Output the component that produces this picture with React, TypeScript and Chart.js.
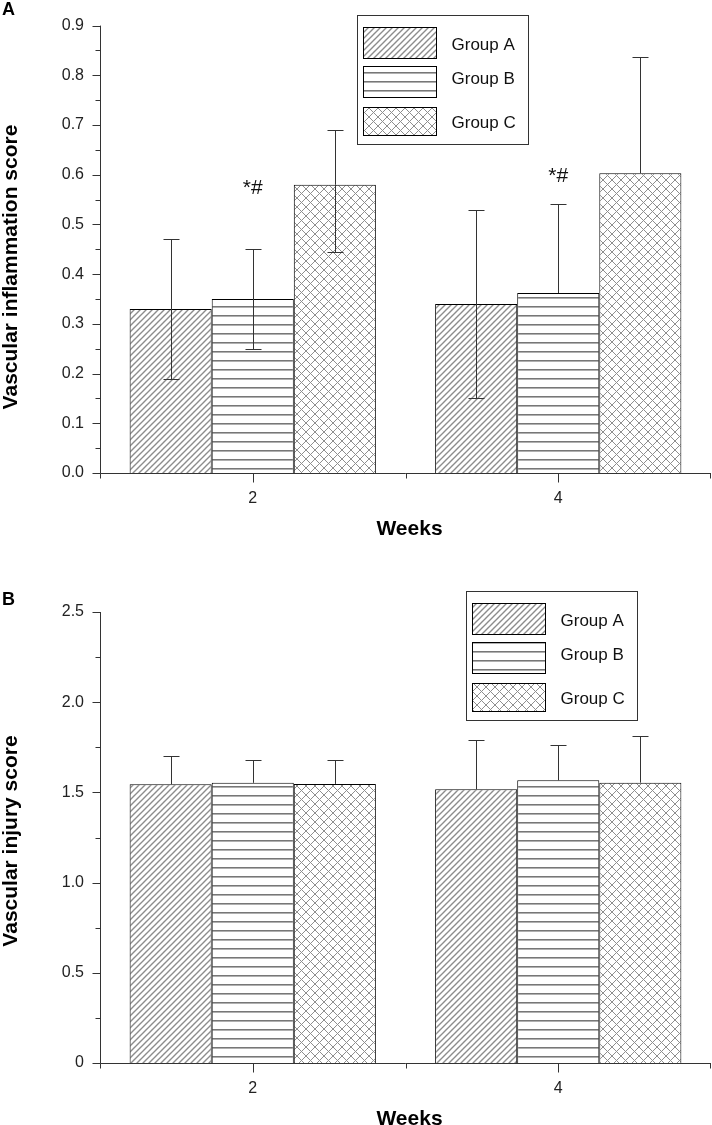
import { useEffect, useRef } from 'react';
import { Chart, registerables } from 'chart.js';

Chart.register(...registerables);

// ---------- data ----------
const weeks = ['2', '4'];
const groupNames = ['Group A', 'Group B', 'Group C'];

// Panel A: vascular inflammation score
const inflA = [0.33, 0.34];
const inflB = [0.35, 0.362];
const inflC = [0.58, 0.603];
const inflUpperA = [0.471, 0.53];
const inflUpperB = [0.45, 0.542];
const inflUpperC = [0.69, 0.837];
const inflLowerA = [0.19, 0.15];
const inflLowerB = [0.25, null];
const inflLowerC = [0.445, null];
const inflMarks = ['*#', '*#'];
const inflMarkAt = [0.562, 0.586];
const inflTicks = [0, 0.1, 0.2, 0.3, 0.4, 0.5, 0.6, 0.7, 0.8, 0.9];
const inflTickLabels = ['0.0', '0.1', '0.2', '0.3', '0.4', '0.5', '0.6', '0.7', '0.8', '0.9'];

// Panel B: vascular injury score
const injA = [1.545, 1.517];
const injB = [1.553, 1.567];
const injC = [1.547, 1.554];
const injUpperA = [1.704, 1.789];
const injUpperB = [1.678, 1.76];
const injUpperC = [1.68, 1.815];
const injTicks = [0, 0.5, 1.0, 1.5, 2.0, 2.5];
const injTickLabels = ['0', '0.5', '1.0', '1.5', '2.0', '2.5'];

const FONT = '"Liberation Sans", Arial, Helvetica, sans-serif';
Chart.defaults.font.family = FONT;

type Kind = 'diag' | 'horiz' | 'cross';

function makePattern(kind: Kind): CanvasPattern {
  const c = document.createElement('canvas');
  const ctx = c.getContext('2d') as CanvasRenderingContext2D;
  if (kind === 'horiz') {
    c.width = 8;
    c.height = 9;
    ctx.fillStyle = '#ffffff';
    ctx.fillRect(0, 0, 8, 9);
    ctx.fillStyle = '#777777';
    ctx.fillRect(0, 0, 8, 1);
    ctx.fillStyle = '#b0b0b0';
    ctx.fillRect(0, 1, 8, 1);
  } else {
    const s = kind === 'diag' ? 6 : 9;
    c.width = s;
    c.height = s;
    ctx.fillStyle = '#ffffff';
    ctx.fillRect(0, 0, s, s);
    ctx.strokeStyle = kind === 'diag' ? '#8c8c8c' : '#8e8e8e';
    ctx.lineWidth = kind === 'diag' ? 1.4 : 1;
    ctx.beginPath();
    for (let k = -1; k <= 1; k++) {
      ctx.moveTo(k * s - 1, s + 1);
      ctx.lineTo(k * s + s + 1, -1);
      if (kind === 'cross') {
        ctx.moveTo(k * s - 1, -1);
        ctx.lineTo(k * s + s + 1, s + 1);
      }
    }
    ctx.stroke();
  }
  return ctx.createPattern(c, 'repeat') as CanvasPattern;
}

interface PanelCfg {
  values: number[][];
  upper: (number | null)[][];
  lower: (number | null)[][];
  marks: string[];
  markAt: number[];
  ticks: number[];
  tickLabels: string[];
  yMax: number;
  yTitle: string;
  yTitleCenter: number;
  panelLabel: string;
  panelLabelY: number;
  padTop: number;
  xHeight: number;
  legendBox: [number, number, number, number];
}

function makeChart(canvas: HTMLCanvasElement, cfg: PanelCfg): Chart {
  const patterns = [makePattern('diag'), makePattern('horiz'), makePattern('cross')];

  const overlay = {
    id: 'overlay',
    afterDatasetsDraw(chart: any) {
      const ctx = chart.ctx as CanvasRenderingContext2D;
      const y = chart.scales.y;
      ctx.save();
      ctx.strokeStyle = '#333';
      ctx.lineWidth = 1;
      cfg.values.forEach((_, di) => {
        const meta = chart.getDatasetMeta(di);
        meta.data.forEach((bar: any, j: number) => {
          const x = Math.round(bar.x) + 0.5;
          const yTop = bar.y;
          const up = cfg.upper[di][j];
          const lo = cfg.lower[di][j];
          ctx.beginPath();
          if (up !== null && up !== undefined) {
            const yu = Math.round(y.getPixelForValue(up)) + 0.5;
            ctx.moveTo(x, yTop);
            ctx.lineTo(x, yu);
            ctx.moveTo(x - 8, yu);
            ctx.lineTo(x + 8, yu);
          }
          if (lo !== null && lo !== undefined) {
            const yl = Math.round(y.getPixelForValue(lo)) + 0.5;
            ctx.moveTo(x, yTop);
            ctx.lineTo(x, yl);
            ctx.moveTo(x - 8, yl);
            ctx.lineTo(x + 8, yl);
          }
          ctx.stroke();
        });
      });
      ctx.restore();
    },
    afterDraw(chart: any) {
      const ctx = chart.ctx as CanvasRenderingContext2D;
      const { left, right, top, bottom } = chart.chartArea;
      const xs = chart.scales.x;
      const ys = chart.scales.y;
      ctx.save();
      // axes
      ctx.strokeStyle = '#333';
      ctx.lineWidth = 1;
      ctx.beginPath();
      const ax = Math.round(left) + 0.5;
      const ay = Math.round(bottom) + 0.5;
      ctx.moveTo(ax, top);
      ctx.lineTo(ax, ay);
      ctx.moveTo(ax, ay);
      ctx.lineTo(right, ay);
      // y ticks
      cfg.ticks.forEach((v, i) => {
        const py = Math.round(ys.getPixelForValue(v)) + 0.5;
        ctx.moveTo(ax - 8, py);
        ctx.lineTo(ax, py);
        if (i < cfg.ticks.length - 1) {
          const mid = (v + cfg.ticks[i + 1]) / 2;
          const pm = Math.round(ys.getPixelForValue(mid)) + 0.5;
          ctx.moveTo(ax - 5, pm);
          ctx.lineTo(ax, pm);
        }
      });
      // x ticks
      const n = weeks.length;
      for (let i = 0; i < n; i++) {
        const px = Math.round(xs.getPixelForValue(i)) + 0.5;
        ctx.moveTo(px, ay);
        ctx.lineTo(px, ay + 9);
      }
      for (let i = 0; i <= n; i++) {
        const bx = Math.round(left + (i * (right - left)) / n) - (i === n ? 0.5 : -0.5);
        ctx.moveTo(bx, ay);
        ctx.lineTo(bx, ay + 5);
      }
      ctx.stroke();

      // annotations above group B bars
      ctx.fillStyle = '#111';
      ctx.font = `21px ${FONT}`;
      ctx.textAlign = 'center';
      ctx.textBaseline = 'alphabetic';
      const metaB = chart.getDatasetMeta(1);
      cfg.marks.forEach((m, j) => {
        const bar = metaB.data[j];
        ctx.fillText(m, bar.x, ys.getPixelForValue(cfg.markAt[j]));
      });

      // y title
      ctx.save();
      ctx.translate(17, cfg.yTitleCenter);
      ctx.rotate(-Math.PI / 2);
      ctx.font = `bold 21px ${FONT}`;
      ctx.textAlign = 'center';
      ctx.fillStyle = '#000';
      ctx.fillText(cfg.yTitle, 0, 0);
      ctx.restore();

      // x title
      ctx.font = `bold 21px ${FONT}`;
      ctx.fillStyle = '#000';
      ctx.textAlign = 'center';
      ctx.fillText('Weeks', (left + right) / 2 + 4, ay + 61);

      // panel label
      ctx.font = `bold 18px ${FONT}`;
      ctx.textAlign = 'left';
      ctx.fillText(cfg.panelLabel, 2, cfg.panelLabelY);

      // legend
      const [lx, ly, lw, lh] = cfg.legendBox;
      ctx.fillStyle = '#fff';
      ctx.fillRect(lx, ly, lw, lh);
      ctx.strokeStyle = '#333';
      ctx.strokeRect(Math.round(lx) + 0.5, Math.round(ly) + 0.5, Math.round(lw), Math.round(lh));
      const rowTop = [11.5, 51, 91.5];
      const rowH = [30.5, 30.5, 27.5];
      const textY = [30, 64.7, 108.2];
      groupNames.forEach((name, i) => {
        const sx = Math.round(lx + 5.6) + 0.5;
        const sy = Math.round(ly + rowTop[i]) + 0.5;
        ctx.fillStyle = patterns[i];
        ctx.fillRect(sx, sy, 73, Math.round(rowH[i]));
        ctx.strokeStyle = '#000';
        ctx.strokeRect(sx, sy, 73, Math.round(rowH[i]));
        ctx.fillStyle = '#111';
        ctx.font = `17px ${FONT}`;
        ctx.textAlign = 'left';
        ctx.textBaseline = 'middle';
        ctx.fillText(name, lx + 94.5, ly + textY[i]);
      });
      ctx.restore();
    },
  };

  return new Chart(canvas, {
    type: 'bar',
    data: {
      labels: weeks,
      datasets: groupNames.map((name, i) => ({
        label: name,
        data: cfg.values[i],
        backgroundColor: patterns[i],
        borderColor: '#000',
        borderWidth: 1,
        barPercentage: 1,
        categoryPercentage: 0.806,
      })),
    },
    options: {
      responsive: false,
      animation: false,
      devicePixelRatio: 1,
      layout: { padding: { top: cfg.padTop, right: 1, left: 0, bottom: 0 } },
      plugins: { legend: { display: false }, tooltip: { enabled: false } },
      scales: {
        x: {
          grid: { display: false, drawTicks: false },
          border: { display: false },
          ticks: { font: { size: 16 }, color: '#222', padding: 16, maxRotation: 0 },
          afterFit: (s: any) => {
            s.height = cfg.xHeight;
          },
        },
        y: {
          min: 0,
          max: cfg.yMax,
          grid: { display: false, drawTicks: false },
          border: { display: false },
          ticks: {
            font: { size: 16 },
            color: '#222',
            padding: 16,
            callback: (_v: any, i: number) => cfg.tickLabels[i],
          },
          afterBuildTicks: (s: any) => {
            s.ticks = cfg.ticks.map((v) => ({ value: v }));
          },
          afterFit: (s: any) => {
            s.width = 100;
          },
        },
      },
    },
    plugins: [overlay],
  } as any);
}

export default function App() {
  const topRef = useRef<HTMLCanvasElement | null>(null);
  const botRef = useRef<HTMLCanvasElement | null>(null);

  useEffect(() => {
    const charts: Chart[] = [];
    if (topRef.current) {
      charts.push(
        makeChart(topRef.current, {
          values: [inflA, inflB, inflC],
          upper: [inflUpperA, inflUpperB, inflUpperC],
          lower: [inflLowerA, inflLowerB, inflLowerC],
          marks: inflMarks,
          markAt: inflMarkAt,
          ticks: inflTicks,
          tickLabels: inflTickLabels,
          yMax: 0.9,
          yTitle: 'Vascular inflammation score',
          yTitleCenter: 267,
          panelLabel: 'A',
          panelLabelY: 15,
          padTop: 18,
          xHeight: 87,
          legendBox: [357, 15, 170.5, 128.5],
        })
      );
    }
    if (botRef.current) {
      charts.push(
        makeChart(botRef.current, {
          values: [injA, injB, injC],
          upper: [injUpperA, injUpperB, injUpperC],
          lower: [[null, null], [null, null], [null, null]],
          marks: [],
          markAt: [],
          ticks: injTicks,
          tickLabels: injTickLabels,
          yMax: 2.5,
          yTitle: 'Vascular injury score',
          yTitleCenter: 271,
          panelLabel: 'B',
          panelLabelY: 35,
          padTop: 42,
          xHeight: 62,
          legendBox: [466, 21, 171, 128.5],
        })
      );
    }
    return () => charts.forEach((c) => c.destroy());
  }, []);

  return (
    <div style={{ position: 'absolute', left: 0, top: 0, width: 712, height: 1125, background: '#fff' }}>
      <canvas ref={topRef} width={712} height={560} style={{ position: 'absolute', left: 0, top: 0, display: 'block' }} />
      <canvas ref={botRef} width={712} height={555} style={{ position: 'absolute', left: 0, top: 570, display: 'block' }} />
    </div>
  );
}
